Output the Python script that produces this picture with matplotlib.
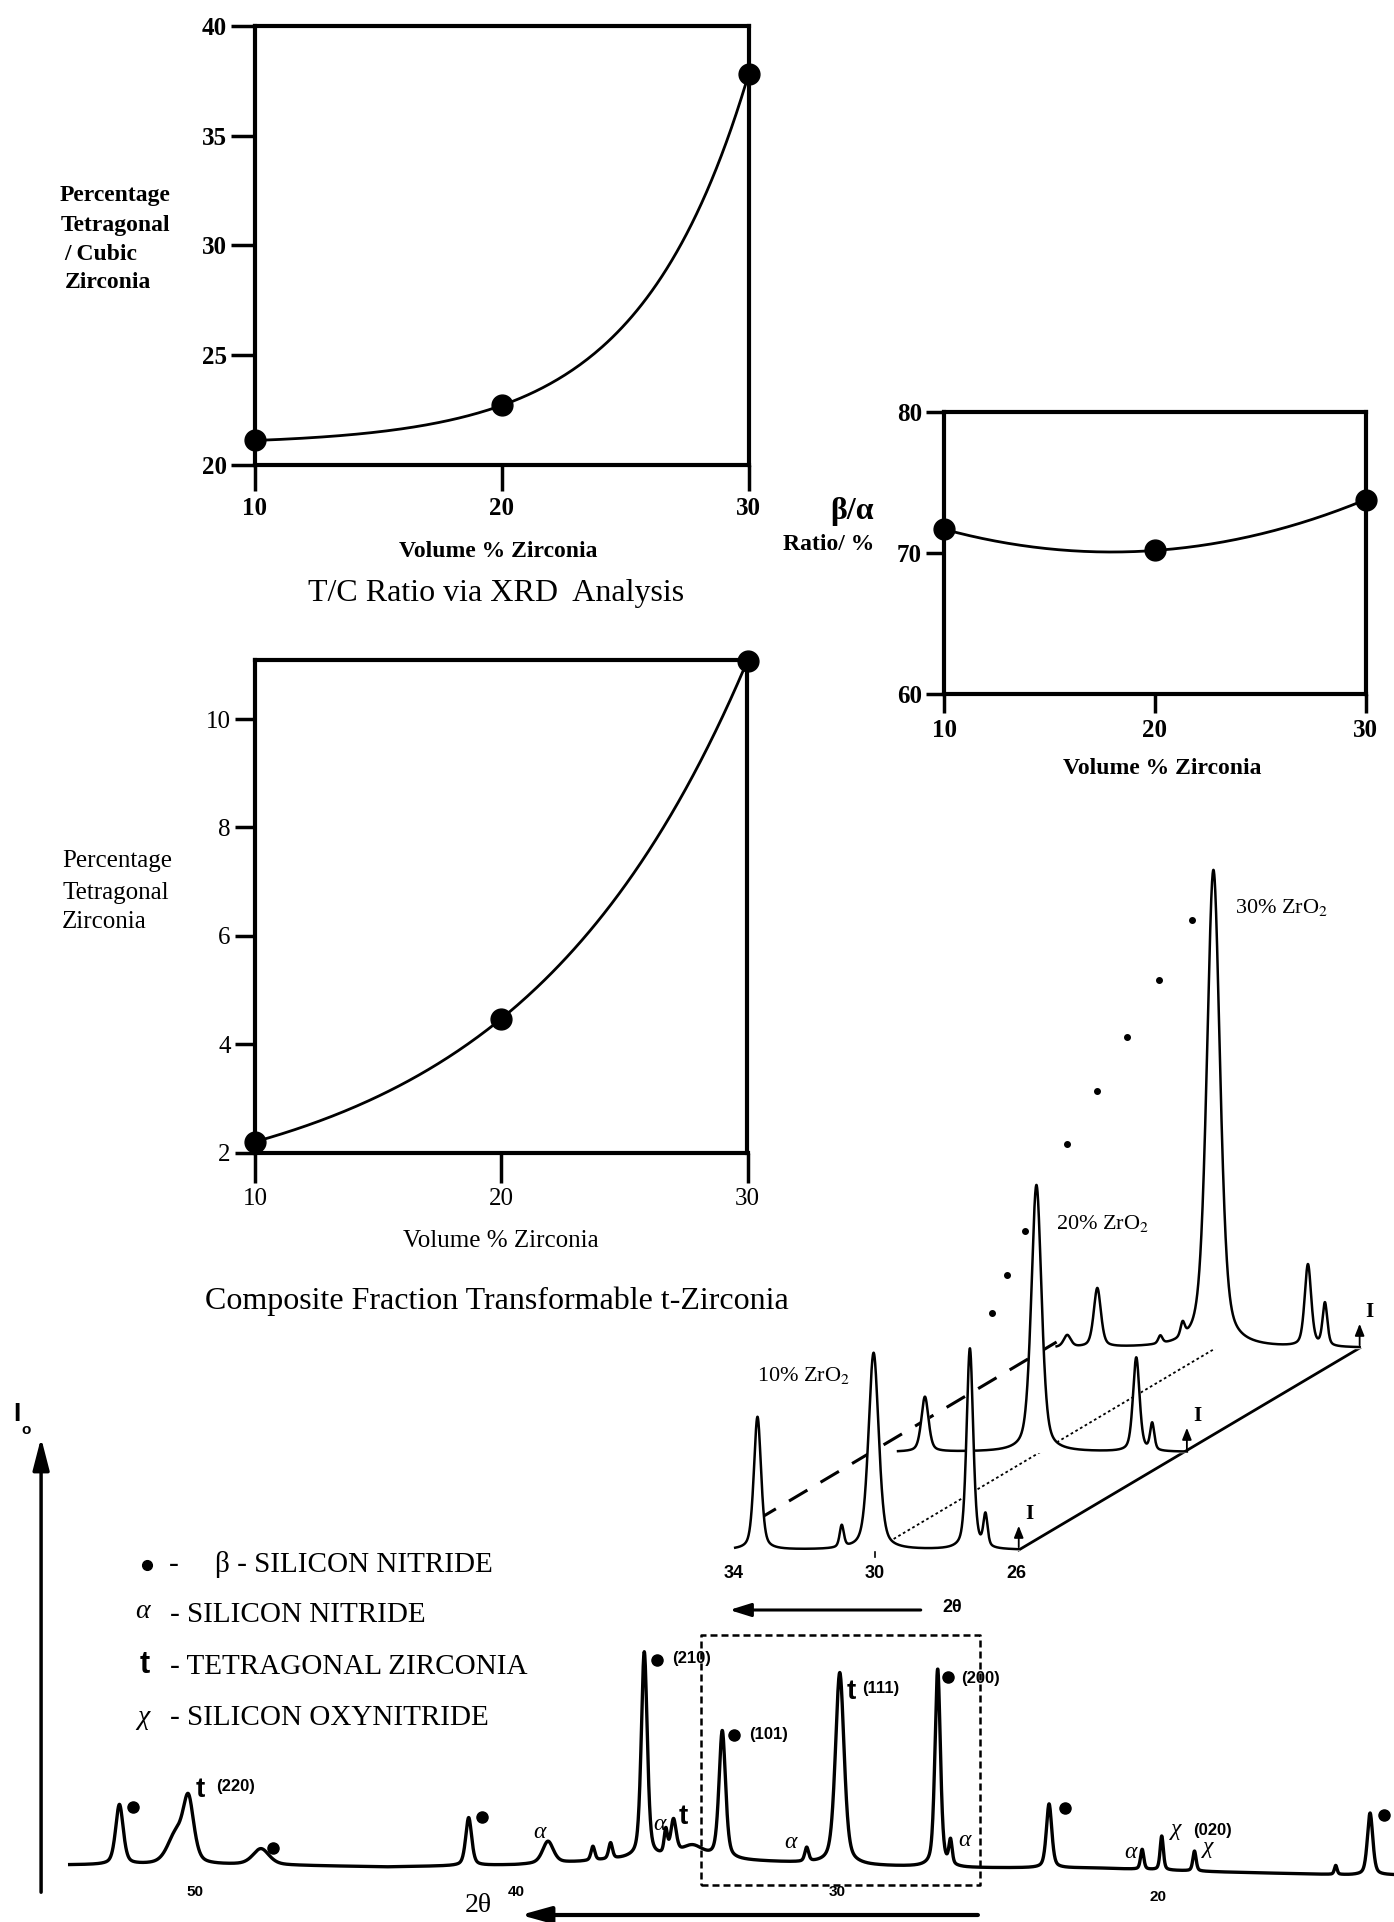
import numpy as np
import matplotlib
matplotlib.use("Agg")
import matplotlib.pyplot as plt

plt.rcParams['font.family'] = ['Liberation Serif', 'DejaVu Serif']
plt.rcParams['mathtext.fontset'] = 'stix'

W, H = 1394, 1922

# ---- values ----
vol_zr = [10, 20, 30]
tc_ratio = [21.1, 22.7, 37.8]        # % tetragonal / cubic zirconia
beta_alpha = [71.7, 70.2, 73.8]      # beta/alpha ratio %
t_fraction = [2.2, 4.47, 11.08]      # % transformable t-zirconia

# bottom XRD pattern: peak 2theta, height, half width
xrd_pos = [52.35, 50.6, 50.2, 47.94, 41.47, 39.0, 37.6, 37.05, 36.0, 35.33, 35.09, 34.5,
           33.57, 30.94, 29.91, 26.86, 26.46, 23.39, 20.49, 19.88, 18.86, 14.46, 13.39]
xrd_h = [60, 28, 62, 16, 48, 22, 14, 16, 206, 24, 34, 12,
         128, 14, 192, 198, 24, 64, 20, 34, 20, 9, 62]
xrd_w = [0.14, 0.3, 0.2, 0.3, 0.11, 0.2, 0.07, 0.07, 0.11, 0.06, 0.1, 0.4,
         0.12, 0.07, 0.16, 0.1, 0.06, 0.1, 0.06, 0.06, 0.06, 0.05, 0.1]
bg_pos = [12.6, 14, 18, 22, 26, 29, 32, 35, 36.5, 38, 40, 44, 48, 53.9]
bg_lvl = [-7, -7, -4, 0, 0, 2, 6, 10, 9, 6, 3, 1, 3, 3]
xrd_ticks = [50, 40, 30, 20]

# inset: 10, 20, 30 % ZrO2 patterns (2theta 34 -> 26)
stack_names = ['10% ZrO$_2$', '20% ZrO$_2$', '30% ZrO$_2$']
stack_pos = [[33.32, 30.94, 30.04, 27.32, 26.88],
             [33.34, 30.19, 27.37, 26.92],
             [34.2, 33.35, 31.57, 30.94, 30.07, 27.40, 26.92]]
stack_h = [[133, 22, 197, 201, 32],
           [55, 267, 94, 27],
           [12, 59, 8, 14, 478, 82, 43]]
stack_w = [[0.12, 0.07, 0.17, 0.11, 0.07],
           [0.12, 0.17, 0.11, 0.07],
           [0.12, 0.12, 0.07, 0.07, 0.22, 0.11, 0.08]]
stack_start = [33.95, 34.1, 34.5]
stack_end = 25.94
stack_ticks = [34, 30, 26]

# depth offsets of the three stacked patterns
shift_deg = [0, 4.75, 9.63]
shift_int = [0, 98, 202]


def box(x0, y0, x1, y1):
    return [x0 / W, 1 - y1 / H, (x1 - x0) / W, (y1 - y0) / H]


def profile(x, pos, h, w, eta=0.45):
    y = np.zeros_like(x)
    for p, a, s in zip(pos, h, w):
        u = (x - p) / s
        y += a * (eta / (1 + u ** 2) + (1 - eta) * np.exp(-np.log(2) * u ** 2))
    return y


def smooth_curve(xs, yv):
    # exponential through the 3 points when it rises steadily, else a parabola
    d1, d2 = yv[1] - yv[0], yv[2] - yv[1]
    if d1 > 0 and d2 > d1:
        r = d2 / d1
        b = d1 / (r - 1)
        return yv[0] - b + b * r ** ((xs - vol_zr[0]) / 10.0)
    return np.polyval(np.polyfit(vol_zr, yv, 2), xs)


fig = plt.figure(figsize=(W / 100, H / 100), dpi=100)


def ftext(x, y, s, **kw):
    kw.setdefault('ha', 'center')
    kw.setdefault('va', 'center')
    fig.text(x / W, 1 - y / H, s, **kw)


def panel(rect, yv, ylim, yticks, tly, tlx, weight):
    ax = fig.add_axes(box(*rect))
    xs = np.linspace(10, 30, 200)
    ax.plot(xs, smooth_curve(xs, yv), color='black', lw=2)
    ax.plot(vol_zr, yv, 'o', color='black', ms=15, clip_on=False, zorder=5)
    ax.set_xlim(10, 30)
    ax.set_ylim(*ylim)
    ax.set_xticks(vol_zr)
    ax.set_yticks(yticks)
    for s in ax.spines.values():
        s.set_linewidth(3)
    ax.tick_params(axis='y', direction='out', length=tly, width=2.5, pad=3, labelsize=18)
    ax.tick_params(axis='x', direction='out', length=tlx, width=2.5, pad=4, labelsize=18)
    for lab in ax.get_xticklabels() + ax.get_yticklabels():
        lab.set_fontweight(weight)
    return ax


# ---- panel 1: T/C ratio ----
panel((255, 26, 748.6, 464.6), tc_ratio, (20, 40), [20, 25, 30, 35, 40], 17, 19, 'bold')
for yy, xx, s in [(196, 60, 'Percentage'), (225, 61, 'Tetragonal'), (255, 64, '/ Cubic'), (283, 65, 'Zirconia')]:
    ftext(xx, yy, s, ha='left', fontsize=17, fontweight='bold')
ftext(498, 552, 'Volume % Zirconia', fontsize=17, fontweight='bold')
ftext(496, 593, 'T/C Ratio via XRD  Analysis', fontsize=23)

# ---- panel 2: beta/alpha ----
panel((944.3, 412.3, 1365.5, 694.3), beta_alpha, (60, 80), [60, 70, 80], 13, 13.5, 'bold')
ftext(852, 512, 'β/α', fontsize=23, fontweight='bold')
ftext(829, 545, 'Ratio/ %', fontsize=17, fontweight='bold')
ftext(1162, 768, 'Volume % Zirconia', fontsize=17, fontweight='bold')

# ---- panel 3: transformable t-zirconia ----
panel((255, 659.5, 747.5, 1152.6), t_fraction, (2, 11.1), [2, 4, 6, 8, 10], 14.5, 21.5, 'normal')
for yy, s in [(861, 'Percentage'), (893, 'Tetragonal'), (922, 'Zirconia')]:
    ftext(62, yy, s, ha='left', fontsize=18)
ftext(501, 1241, 'Volume % Zirconia', fontsize=18)
ftext(497, 1301, 'Composite Fraction Transformable t-Zirconia', fontsize=23)

# ---- inset: stacked patterns ----
axi = fig.add_axes(box(700, 850, W, 1640))
axi.set_xlim(34.944, 15.339)
axi.set_ylim(-90, 700)
axi.axis('off')

apex = []
for k in range(3):
    tt = np.linspace(stack_start[k], stack_end, 1500)
    yy = profile(tt, stack_pos[k], stack_h[k], stack_w[k])
    X = tt - shift_deg[k]
    Y = yy + shift_int[k]
    z = 10 - 2 * k
    axi.fill_between(X, shift_int[k], Y, color='white', zorder=z)
    axi.plot(X, Y, color='black', lw=1.8, zorder=z + 0.5)
    i = int(np.argmax(stack_h[k]))
    apex.append((stack_pos[k][i] - shift_deg[k], stack_h[k][i] + shift_int[k]))
    xe = stack_end - shift_deg[k]
    axi.annotate('', xy=(xe, shift_int[k] + 27), xytext=(xe, shift_int[k]),
                 arrowprops=dict(arrowstyle='-|>,head_length=0.5,head_width=0.2',
                                 lw=1.3, color='black', mutation_scale=14), zorder=z + 1)
    axi.text(xe - 0.17, shift_int[k] + 36, 'I', fontsize=15, fontweight='bold',
             ha='left', va='center', zorder=z + 1)

# box edges of the stack
axi.plot([stack_end, stack_end - shift_deg[2]], [0, shift_int[2]], color='black', lw=2, zorder=1)
axi.plot([30, 30 - shift_deg[2]], [0, shift_int[2]], color='black', lw=1.3,
         ls=(0, (1.5, 1.5)), zorder=1)
x0, y0 = stack_start[0], 17
x1, y1 = stack_start[2] - shift_deg[2], shift_int[2] + 6
f = (x0 - stack_pos[0][0]) / (x0 - x1)
axi.plot([x0 + f * (x1 - x0), x1], [y0 + f * (y1 - y0), y1],
         color='black', lw=2.2, ls=(0, (7, 5)), zorder=1)
axi.plot([30, 30], [0, -7], color='black', lw=1.2)

# guide dots along the t(111) peak tops
for (a, b), params in [((apex[0], apex[1]), [0.22, 0.45, 0.72]),
                       ((apex[1], apex[2]), [0.13, 0.30, 0.47, 0.65, 0.84])]:
    for t in params:
        axi.plot(a[0] + t * (b[0] - a[0]) - 0.2, a[1] + t * (b[1] - a[1]), 'o',
                 color='black', ms=4, zorder=20)

for t in stack_ticks:
    axi.text(t, -23, str(t), family='Liberation Sans', fontweight='bold', fontsize=13,
             ha='center', va='center')
axi.annotate('', xy=(34.19, -60), xytext=(28.63, -60),
             arrowprops=dict(arrowstyle='-|>,head_length=0.8,head_width=0.25',
                             lw=2.2, color='black', mutation_scale=16))
axi.text(27.82, -58, '2θ', family='Liberation Sans', fontweight='bold', fontsize=13,
         ha='center', va='center')

ftext(757, 1375, stack_names[0], ha='left', fontsize=16)
ftext(1056, 1223, stack_names[1], ha='left', fontsize=16)
ftext(1235, 907, stack_names[2], ha='left', fontsize=16)

# ---- bottom: full XRD pattern ----
axb = fig.add_axes(box(0, 1240, W, 1922))
axb.set_xlim(56.07, 12.645)
axb.set_ylim(-54, 628)
axb.axis('off')

tt = np.linspace(53.9, 12.645, 5000)
inten = np.interp(tt, bg_pos, bg_lvl) + profile(tt, xrd_pos, xrd_h, xrd_w)
axb.plot(tt, inten, color='black', lw=2.4)

for t in xrd_ticks:
    axb.text(t, np.interp(t, bg_pos, bg_lvl) - 27, str(t), family='Liberation Sans',
             fontweight='bold', fontsize=11, ha='center', va='center')

# dashed region shown in the inset
axb.plot([34.24, 25.55, 25.55, 34.24, 34.24], [-17, -17, 233, 233, -17],
         color='black', lw=1.8, ls=(0, (2.8, 1.6)))

# intensity axis and 2theta arrow
axb.annotate('', xy=(54.79, 433), xytext=(54.79, -27),
             arrowprops=dict(arrowstyle='-|>,head_length=0.97,head_width=0.25',
                             lw=2.5, color='black', mutation_scale=20))
axb.annotate('', xy=(39.94, -47), xytext=(25.52, -47),
             arrowprops=dict(arrowstyle='-|>,head_length=0.9,head_width=0.25',
                             lw=3, color='black', mutation_scale=20))
ftext(478, 1906, '2θ', fontsize=20)
ftext(17, 1414, 'I', family='Liberation Sans', fontweight='bold', fontsize=19)
ftext(26, 1430, 'o', family='Liberation Sans', fontweight='bold', fontsize=11)

# peak labels
beta_dots = [(51.93, 61), (47.57, 20), (41.06, 51), (35.61, 208), (33.21, 133),
             (26.53, 191), (22.90, 60), (12.97, 53)]
for bx, by in beta_dots:
    axb.plot(bx, by, 'o', color='black', ms=8, clip_on=False)

sans_b = dict(family='Liberation Sans', fontweight='bold', ha='center', va='center')
for s, x, y in [('(220)', 48.74, 81), ('(210)', 34.53, 210), ('(101)', 32.12, 133),
                ('(111)', 28.63, 180), ('(200)', 25.53, 190), ('(020)', 18.31, 38)]:
    axb.text(x, y, s, fontsize=12, **sans_b)
for x, y in [(49.84, 78), (34.79, 51), (29.54, 176)]:
    axb.text(x, y, 't', fontsize=20, **sans_b)
for x, y in [(39.25, 35), (35.54, 44), (31.46, 25), (26.04, 28), (20.84, 15)]:
    axb.text(x, y, 'α', fontsize=17, style='italic', ha='center', va='center')
for x, y in [(19.42, 38), (18.43, 21)]:
    axb.text(x, y, 'χ', fontsize=17, style='italic', ha='center', va='center')

# legend
axb.plot(51.49, 303, 'o', color='black', ms=7)
ftext(174, 1565, '-', fontsize=21)
ftext(215, 1565, 'β - SILICON NITRIDE', ha='left', fontsize=21)
ftext(142, 1612, 'α', fontsize=20, style='italic')
ftext(170, 1615, '- SILICON NITRIDE', ha='left', fontsize=21)
ftext(145, 1665, 't', family='Liberation Sans', fontweight='bold', fontsize=22)
ftext(170, 1667, '- TETRAGONAL ZIRCONIA', ha='left', fontsize=21)
ftext(143, 1718, 'χ', fontsize=20, style='italic')
ftext(170, 1718, '- SILICON OXYNITRIDE', ha='left', fontsize=21)

fig.savefig('out.png', dpi=100)
